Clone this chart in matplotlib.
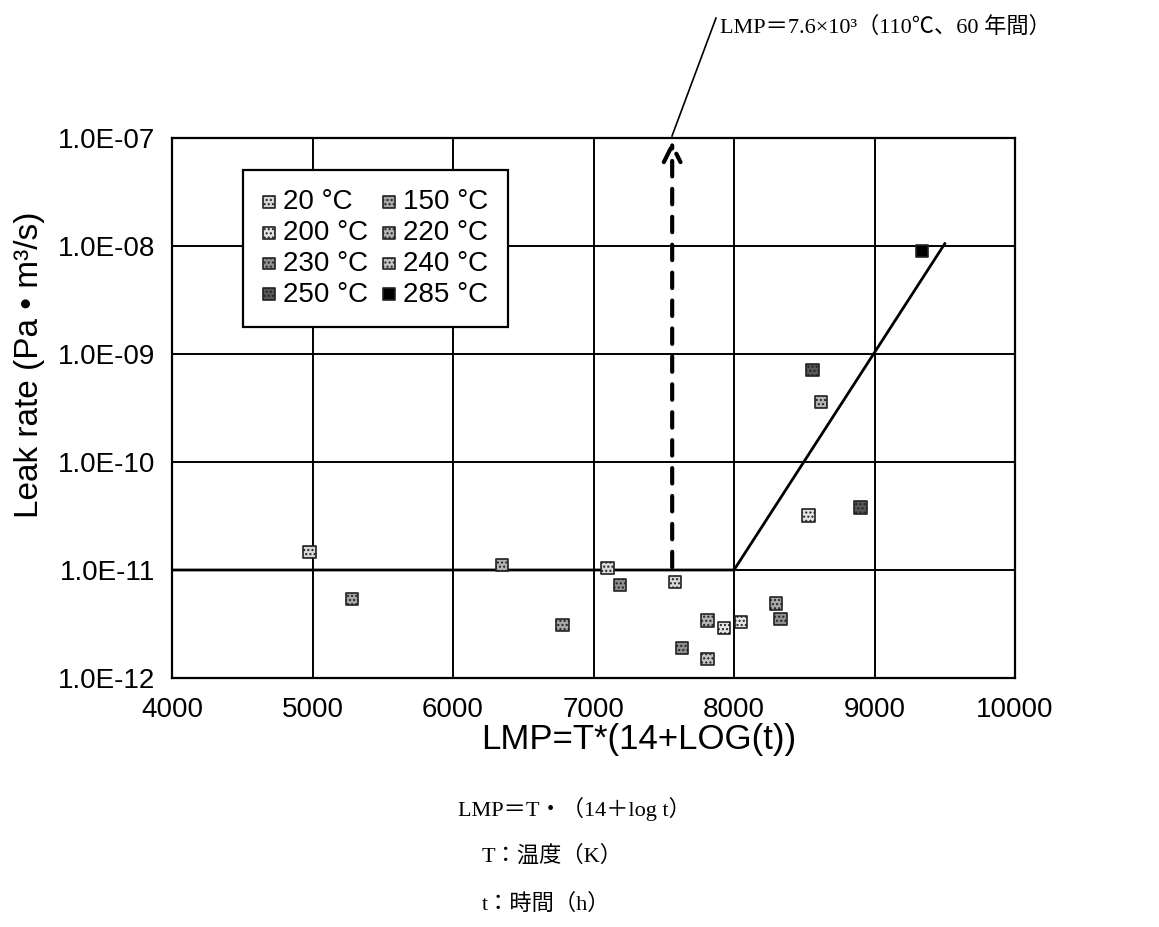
import matplotlib as mpl
mpl.use("Agg")
import matplotlib.pyplot as plt
import matplotlib.ticker as ticker

plt.rcParams['font.family'] = ['Liberation Sans', 'Noto Sans CJK JP']

# data
temps = ['20 °C', '150 °C', '200 °C', '220 °C', '230 °C', '240 °C', '250 °C', '285 °C']
shades = ['#d8d8d8', '#a8a8a8', '#e4e4e4', '#b4b4b4', '#909090', '#c4c4c4', '#585858', '#000000']

lmp = {
    '20 °C': [4980, 7100, 7580],
    '150 °C': [5280, 6780, 8300],
    '200 °C': [7930, 8050, 8530],
    '220 °C': [6350, 7810, 8620],
    '230 °C': [7190, 7630, 8330],
    '240 °C': [7810],
    '250 °C': [8560, 8900],
    '285 °C': [9340],
}
leak = {
    '20 °C': [1.47e-11, 1.04e-11, 7.7e-12],
    '150 °C': [5.4e-12, 3.1e-12, 4.9e-12],
    '200 °C': [2.9e-12, 3.3e-12, 3.2e-11],
    '220 °C': [1.11e-11, 3.4e-12, 3.6e-10],
    '230 °C': [7.3e-12, 1.9e-12, 3.5e-12],
    '240 °C': [1.5e-12],
    '250 °C': [7.1e-10, 3.8e-11],
    '285 °C': [9.0e-9],
}

fit_x = [4000, 8000, 9500]
fit_y = [1e-11, 1e-11, 1.05e-8]

target_lmp = 7560

jp_font = ['Liberation Serif', 'Noto Sans CJK JP']

W, H = 1159, 927
fig = plt.figure(figsize=(W / 100, H / 100), dpi=100)
ax = fig.add_axes([172 / W, 1 - 678 / H, 843 / W, 540 / H])

handles = {}
for t, c in zip(temps, shades):
    handles[t] = ax.scatter(lmp[t], leak[t], marker='s', s=80, facecolor=c, edgecolor='#222222',
                            linewidth=1.2, hatch='....' if t != '285 °C' else None,
                            zorder=4, label=t)

ax.plot(fit_x, fit_y, color='black', linewidth=2, zorder=3)

ax.set_yscale('log')
ax.set_xlim(4000, 10000)
ax.set_ylim(1e-12, 1e-7)
ax.xaxis.set_major_locator(ticker.MultipleLocator(1000))
ax.yaxis.set_major_locator(ticker.LogLocator(base=10, numticks=10))
ax.yaxis.set_minor_locator(ticker.NullLocator())
ax.yaxis.set_major_formatter(ticker.FuncFormatter(lambda v, p: '{:.1E}'.format(v)))
ax.grid(True, color='black', linewidth=1.4)
ax.set_axisbelow(True)
for s in ax.spines.values():
    s.set_linewidth(1.6)
ax.tick_params(labelsize=20, length=0)
ax.tick_params(axis='y', pad=12)
ax.tick_params(axis='x', pad=14)

ax.set_xlabel('LMP=T*(14+LOG(t))', fontsize=25)
ax.xaxis.set_label_coords(467 / 843, -45 / 540)
ax.set_ylabel('Leak rate (Pa • m³/s)', fontsize=24)
ax.yaxis.set_label_coords(-127 / 843, 0.58)

# legend filled row by row: 20/150, 200/220, 230/240, 250/285
order = ['20 °C', '200 °C', '230 °C', '250 °C', '150 °C', '220 °C', '240 °C', '285 °C']
leg = ax.legend([handles[t] for t in order], order, ncol=2, loc='upper left',
                bbox_to_anchor=(71 / 843, 508 / 540), borderaxespad=0, fontsize=20,
                frameon=True, fancybox=False, edgecolor='black', framealpha=1,
                handlelength=0.5, handletextpad=0.25, columnspacing=0.5,
                labelspacing=0.17, borderpad=0.7, markerscale=0.95)
leg.get_frame().set_linewidth(1.6)

# dashed arrow at LMP = 7.6e3
ax.annotate('', xy=(target_lmp, 1e-7), xytext=(target_lmp, 1e-11),
            arrowprops=dict(arrowstyle='->', color='black', linewidth=3,
                            linestyle=(0, (3.7, 3)), mutation_scale=30), zorder=5)

fig.add_artist(plt.Line2D([672 / W, 716 / W], [1 - 136 / H, 1 - 18 / H],
                          color='black', linewidth=1.2))
fig.text(720 / W, 1 - 27 / H, 'LMP＝7.6×10³（110℃、60 年間）', fontsize=16,
         family=jp_font, va='center', ha='left')

notes = ['LMP＝T・（14＋log t）', 'T：温度（K）', 't：時間（h）']
note_x = [458, 482, 482]
note_y = [809, 856, 904]
for s, x, y in zip(notes, note_x, note_y):
    fig.text(x / W, 1 - y / H, s, fontsize=16, family=jp_font, va='center', ha='left')

fig.savefig('out.png', dpi=100)
